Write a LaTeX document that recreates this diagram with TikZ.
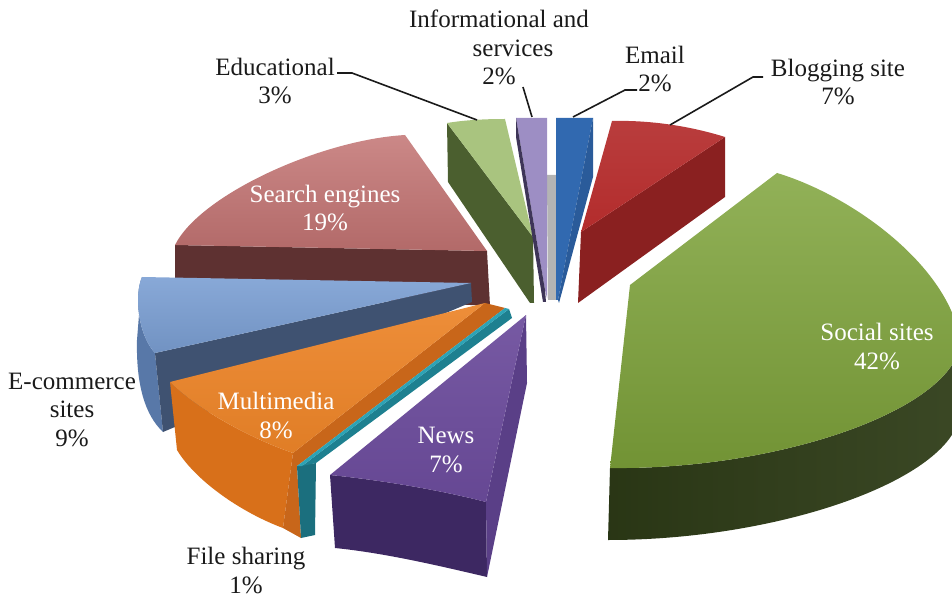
\documentclass[tikz,border=0pt]{standalone}
\usepackage{fontspec}
\setmainfont{Liberation Serif}
\definecolor{seTop}{HTML}{C27372}
\definecolor{seSide}{HTML}{5E3131}
\definecolor{edTop}{HTML}{A9C47F}
\definecolor{edSide}{HTML}{4B5F2F}
\definecolor{inTop}{HTML}{9D8EC4}
\definecolor{inSide}{HTML}{3E3558}
\definecolor{emTop}{HTML}{3169B0}
\definecolor{emSide}{HTML}{2A5B9A}
\definecolor{blTop}{HTML}{B32C2C}
\definecolor{blSide}{HTML}{8A2020}
\definecolor{soTop}{HTML}{7EA33A}
\definecolor{soSide}{HTML}{2E3C17}
\definecolor{ecTop}{HTML}{7B9FD3}
\definecolor{ecCut}{HTML}{3F5271}
\definecolor{ecRim}{HTML}{5878A8}
\definecolor{mmTop}{HTML}{EC8428}
\definecolor{mmFront}{HTML}{D8701A}
\definecolor{mmSide}{HTML}{C8661A}
\definecolor{fsTop}{HTML}{2DA3B5}
\definecolor{fsCut}{HTML}{1E8090}
\definecolor{fsFront}{HTML}{1B6F7E}
\definecolor{nwTop}{HTML}{6B4B9B}
\definecolor{nwSide}{HTML}{5A3F87}
\definecolor{nwFront}{HTML}{3D2862}
\definecolor{hole}{HTML}{B4B4B4}
\definecolor{ink}{HTML}{1A1A1A}
\begin{document}
\begin{tikzpicture}[x=1pt,y=-1pt,
  lbl/.style={font=\fontsize{25}{28.5}\selectfont, align=center, anchor=base, inner sep=0pt, text=ink},
  wlbl/.style={lbl, text=white},
  leader/.style={line width=1.6pt, draw=ink}]
\useasboundingbox (0,0) rectangle (952,601);
\clip (0,0) rectangle (952,601);

% ---- Search engines (19%)
\fill[seSide] (175,245) -- (487,251) -- (490,306) -- (175,290) -- cycle;
\shade[top color=seTop!85!white, bottom color=seTop!92!black]
  (405,135) -- (487,251) -- (175,245) .. controls (200,195) and (320,140) .. (405,135) -- cycle;

% ---- Educational (3%)
\fill[edSide] (447,123) -- (533,237) -- (534,303) -- (530,303) -- (448,182) -- cycle;
\fill[edTop] (447,123) .. controls (465,120) and (485,119) .. (505,119) -- (533,237) -- cycle;

% ---- centre gap
\fill[hole] (547,175) -- (557,175) -- (556,300) -- (548,300) -- cycle;

% ---- Informational and services (2%)
\fill[inTop] (516,118) -- (547,118) -- (547,298) -- (545,290) -- cycle;
\fill[inSide] (516,118) -- (545,290) -- (546,302) -- (543,302) -- (516,137) -- cycle;

% ---- Email (2%)
\fill[emTop] (556,118) -- (593,118) -- (558,300) -- (556,300) -- cycle;
\fill[emSide] (593,118) -- (593,177) -- (559,303) -- (558,300) -- cycle;

% ---- Blogging site (7%)
\fill[blSide] (725,137) -- (725,197) -- (578,303) -- (581,232) -- cycle;
\shade[top color=blTop!92!white, bottom color=blTop]
  (612,121) .. controls (650,120) and (690,126) .. (725,137) -- (581,232) -- cycle;

% ---- Social sites (42%)
\shade[left color=soSide!90!black, right color=soSide!94!white]
  (610,468) .. controls (780,470) and (950,410) .. (960,345) -- (960,415)
   .. controls (950,480) and (780,540) .. (608,540) -- cycle;
\shade[top color=soTop!85!white, bottom color=soTop!90!black]
  (777,173) .. controls (850,195) and (940,260) .. (958,330) -- (960,345)
   .. controls (950,410) and (780,470) .. (610,468) -- (630,285) -- cycle;

% ---- E-commerce sites (9%)
\fill[ecRim] (142,277) .. controls (134,295) and (138,335) .. (155,353) -- (163,432)
   .. controls (145,415) and (136,385) .. (137,340) -- cycle;
\fill[ecCut] (155,353) -- (471,283) -- (472,302) -- (163,432) -- cycle;
\shade[top color=ecTop!90!white, bottom color=ecTop!92!black]
  (142,277) -- (471,283) -- (155,353) .. controls (138,335) and (134,295) .. (142,277) -- cycle;

% ---- Multimedia (8%)
\fill[mmFront] (170,382) .. controls (200,412) and (255,440) .. (293,453) -- (283,528)
   .. controls (240,512) and (195,480) .. (177,450) -- cycle;
\fill[mmSide] (485,303) -- (505,308) -- (297,466) -- (301,538) -- (283,528) -- (293,453) -- cycle;
\shade[top color=mmTop!92!white, bottom color=mmTop!95!black]
  (170,382) -- (485,303) -- (293,453) .. controls (255,440) and (200,412) .. (170,382) -- cycle;

% ---- File sharing (1%)
\fill[fsFront] (297,466) -- (316,463) -- (315,535) -- (301,538) -- cycle;
\fill[fsCut] (302,466) -- (509,309) -- (512,318) -- (316,463) -- cycle;
\fill[fsTop] (297,466) -- (505,308) -- (509,309) -- (302,466) -- cycle;

% ---- News (7%)
\fill[nwFront] (330,475) .. controls (380,480) and (440,490) .. (486,502) -- (487,577)
   .. controls (440,566) and (385,553) .. (335,548) -- cycle;
\fill[nwSide] (526,315) -- (527,383) -- (487,577) -- (486,502) -- cycle;
\shade[top color=nwTop!92!white, bottom color=nwTop!95!black]
  (526,315) -- (330,475) .. controls (380,480) and (440,490) .. (486,502) -- cycle;

% ---- labels (anchor = baseline of the last line)
\node[wlbl] (lSearch) at (325,231) {Search engines\\19\%};
\node[wlbl] (lSocial) at (877,369) {Social sites\\42\%};
\node[wlbl] (lMulti) at (276,438) {Multimedia\\8\%};
\node[wlbl] (lNews) at (446,472) {News\\7\%};
\node[lbl] (lEdu) at (275,104) {Educational\\3\%};
\node[lbl] (lInfo) at (499,85) {Informational and\\\hspace*{28pt}services\\2\%};
\node[lbl] (lEmail) at (655,92) {Email\\2\%};
\node[lbl] (lBlog) at (838,105) {Blogging site\\7\%};
\node[lbl] (lEcom) at (72,446) {E-commerce\\sites\\9\%};
\node[lbl] (lFile) at (246,593) {File sharing\\1\%};

% ---- leader lines
\coordinate (eduA) at (337,73);
\coordinate (eduB) at (477,120);
\coordinate (infA) at (523,87);
\coordinate (infB) at (532,117);
\coordinate (emA) at (637,90);
\coordinate (emB) at (573,117);
\coordinate (blA) at (763,77);
\coordinate (blB) at (670,125);
\draw[leader] (eduA) -- ++(15,0) -- (eduB);
\draw[leader] (infA) -- (infB);
\draw[leader] (emA) -- ++(-12,0) -- (emB);
\draw[leader] (blA) -- ++(-10,0) -- (blB);
\end{tikzpicture}
\end{document}
